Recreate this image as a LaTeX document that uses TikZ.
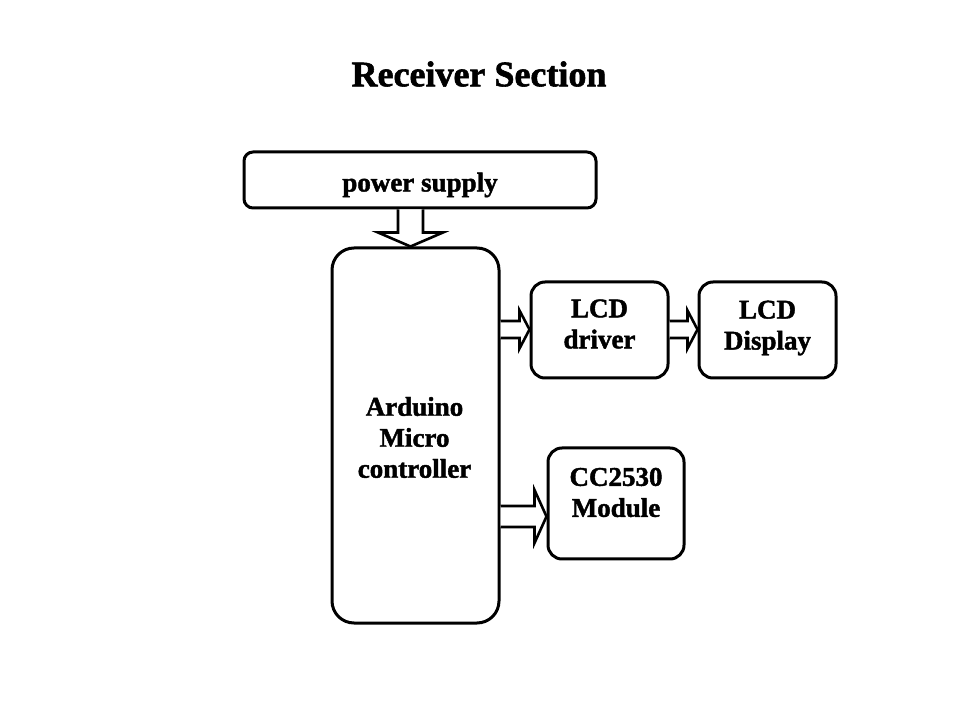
\documentclass[tikz,border=0pt]{standalone}
\usepackage{fontspec}
\setmainfont{Liberation Serif}[BoldFeatures={FakeBold=1.6}]
\usetikzlibrary{calc}
\tikzset{
  blockbox/.style={draw=black, line width=3pt, inner sep=0pt},
  boxtext/.style={inner sep=0pt, align=center,
    font=\fontsize{27}{31}\selectfont\bfseries},
  blk/.style={draw=black, fill=white, line width=2.6pt, line join=miter},
}
% right-pointing hollow arrow: #1 from node, #2 to node, #3 y centre, #4 shaft half, #5 head half, #6 head length
\newcommand{\harrowR}[6]{%
  \filldraw[blk] let \p1=(#1.east), \p2=(#2.west) in
    (\x1,#3+#4) -- (\x2-#6,#3+#4) -- (\x2-#6,#3+#5) -- (\x2,#3) --
    (\x2-#6,#3-#5) -- (\x2-#6,#3-#4) -- (\x1,#3-#4);}
\begin{document}
\begin{tikzpicture}[x=1pt,y=1pt]
\useasboundingbox (0,0) rectangle (960,720);
\fill[white] (0,0) rectangle (960,720);
\node[font=\fontsize{36}{40}\selectfont\bfseries] (title) at (479,646) {Receiver Section};
\node[blockbox, minimum width=352pt, minimum height=56pt, rounded corners=9pt] (ps) at (420,540) {};
\node[blockbox, minimum width=167pt, minimum height=375pt, rounded corners=22pt] (ard) at (415.5,284.5) {};
\node[blockbox, minimum width=137pt, minimum height=96pt, rounded corners=14pt] (lcd1) at (599.5,390) {};
\node[blockbox, minimum width=137pt, minimum height=96pt, rounded corners=14pt] (lcd2) at (767.5,390) {};
\node[blockbox, minimum width=136pt, minimum height=111pt, rounded corners=14pt] (cc) at (616,216.5) {};
\node[boxtext] (pst) at ($(ps)+(0,-5)$) {power supply};
\node[boxtext] (ardt) at ($(ard)+(-1,-2)$) {Arduino\\Micro\\controller};
\node[boxtext] (lcd1t) at ($(lcd1)+(0,6)$) {LCD\\driver};
\node[boxtext] (lcd2t) at ($(lcd2)+(0,2)$) {LCD\\Display};
\node[boxtext] (cct) at ($(cc)+(0,11)$) {CC2530\\Module};
% power arrow (down)
\filldraw[blk] let \p1=(ps.south), \p2=(ard.north) in
  (410.5-12.5,\y1) -- (410.5-12.5,\y2+14) -- (410.5-32.5,\y2+14) -- (410.5,\y2) --
  (410.5+32.5,\y2+14) -- (410.5+12.5,\y2+14) -- (410.5+12.5,\y1);
\harrowR{ard}{lcd1}{390.5}{8.5}{19}{10}
\harrowR{lcd1}{lcd2}{390.5}{8.5}{19}{10}
\harrowR{ard}{cc}{203.5}{10.5}{26.5}{12}
\end{tikzpicture}
\end{document}
